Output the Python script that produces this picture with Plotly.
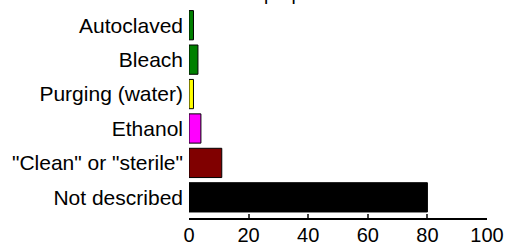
import plotly.graph_objects as go

categories = ["Not described", "\"Clean\" or \"sterile\"", "Ethanol", "Purging (water)", "Bleach", "Autoclaved"]
values = [80, 11, 4, 1.5, 3, 1.5]
colors = ["#000000", "#800000", "#ff00ff", "#ffff00", "#008000", "#008000"]
x_ticks = [0, 20, 40, 60, 80, 100]

fig = go.Figure(go.Bar(
    y=categories, x=values, orientation="h",
    marker=dict(color=colors, line=dict(color="#000000", width=1)),
    width=0.85,
))

fig.update_layout(
    width=507, height=245,
    margin=dict(l=189, r=20, t=8, b=27),
    paper_bgcolor="white", plot_bgcolor="white",
    showlegend=False,
    font=dict(family="Liberation Sans, Arial, sans-serif", size=21, color="black"),
    annotations=[dict(text="preparation", xref="paper", yref="paper",
                      x=(262 - 189) / 298, xanchor="left", y=1, yanchor="bottom",
                      yshift=2, showarrow=False, font=dict(size=19))],
)
fig.update_xaxes(range=[0, 100], tickvals=x_ticks, ticks="inside", ticklen=4,
                 tickwidth=1.5, showline=True, linewidth=2, linecolor="black",
                 showgrid=False, zeroline=False, tickfont=dict(size=20), automargin=False,
                 ticklabelstandoff=-2)
fig.update_yaxes(type="category", range=[-0.6, 5.5], showline=False, ticks="",
                 showgrid=False, zeroline=False, tickfont=dict(size=21),
                 ticklabelstandoff=5, automargin=False)

fig.write_html("out.html", config={"displayModeBar": False},
               post_script="document.body.style.margin='0';document.body.style.overflow='hidden';")
